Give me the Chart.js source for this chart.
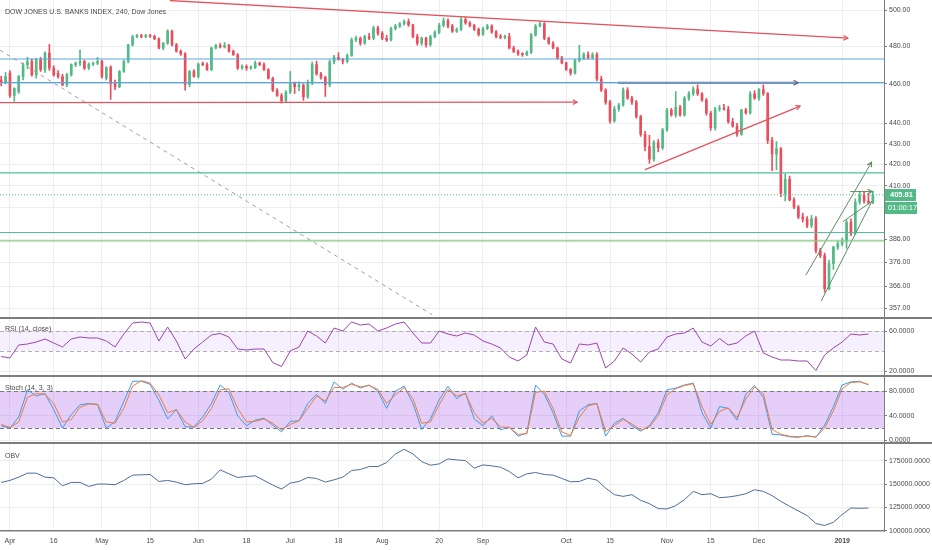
<!DOCTYPE html>
<html>
<head>
<meta charset="utf-8">
<script src="https://cdn.jsdelivr.net/npm/chart.js@4.4.0/dist/chart.umd.min.js"></script>
<style>
  body { margin: 0; background: #fff; }
  #wrap { position: relative; width: 932px; height: 550px; overflow: hidden; font-family: "Liberation Sans", Arial, sans-serif; }
  canvas { position: absolute; left: 0; }
  .sep { position: absolute; left: 0; width: 932px; height: 2px; background: #7d7d7d; }
  .lbl { position: absolute; left: 5px; font-size: 7px; line-height: 9px; color: #4a4a4a; white-space: nowrap; }
</style>
</head>
<body>
<div id="wrap">
  <canvas id="main" width="932" height="317" style="top:0"></canvas>
  <div class="sep" style="top:317px"></div>
  <canvas id="rsi" width="932" height="56" style="top:319px"></canvas>
  <div class="sep" style="top:375px"></div>
  <canvas id="stoch" width="932" height="65" style="top:377px"></canvas>
  <div class="sep" style="top:442px"></div>
  <canvas id="obv" width="932" height="106" style="top:444px"></canvas>
  <div class="lbl" style="top:7px">DOW JONES U.S. BANKS INDEX, 240, Dow Jones</div>
  <div class="lbl" style="top:324px">RSI (14, close)</div>
  <div class="lbl" style="top:383px">Stoch (14, 3, 3)</div>
  <div class="lbl" style="top:451px">OBV</div>
</div>
<script>
// trading-day index of each date label
const dateTicks = [2, 12, 23, 34, 45, 56, 66, 77, 87, 100, 110, 129, 139, 152, 162, 173, 192]
const dateLabels = ['Apr', '16', 'May', '15', 'Jun', '18', 'Jul', '18', 'Aug', '20', 'Sep', 'Oct', '15', 'Nov', '15', 'Dec', '2019']

const priceTicks = [357, 366, 376, 386, 400, 410, 420, 430, 440, 460, 480, 500]
const rsiTicks = [20, 60]
const stochTicks = [0, 40, 80]
const obvTicks = [100000, 125000, 150000, 175000]

// one candle per trading day: [open, high, low, close]
const candles = [
  [462, 464, 459, 461], [461, 466, 460, 463.8], [465.6, 467, 453, 454], [454, 458, 451, 457.6], [456, 464.5, 455, 463.8],
  [463.8, 471, 462, 470], [470, 474, 468, 471.8], [471.8, 473, 464, 464.7], [464.7, 473.5, 463, 472.7], [472.7, 474, 466.5, 467.4],
  [467.4, 477, 466, 476.3], [476.3, 481, 467, 468.3], [468.3, 469.5, 464, 464.7], [465.5, 467, 463, 463.8], [463.8, 465, 459, 459.4],
  [459.4, 465.5, 458.5, 464.7], [464.7, 470.5, 464, 470.1], [470.1, 471.5, 469, 470.9], [470.9, 478, 469.5, 471.8], [471.8, 472.5, 467.5, 468.3],
  [468.3, 471, 467.5, 470.4], [470.4, 471.5, 469.5, 470.9], [470.9, 474, 470, 471.8], [471.8, 472.5, 463, 463.8], [462.9, 469, 462, 468.6],
  [468.6, 469.5, 452, 460.2], [460.2, 462, 457, 458.5], [458.5, 467, 458, 466.5], [466.5, 472.5, 466, 471.8], [471.8, 481, 471, 480.8],
  [480.8, 486, 480, 485.2], [485.2, 486.5, 484.5, 485.7], [485.7, 486.5, 484.5, 485.2], [485.2, 486.5, 484.5, 485.7], [485.7, 486.5, 484.8, 485.4],
  [485.4, 486, 483.5, 484], [484, 484.5, 478.5, 479], [479, 482, 478, 481.6], [481.6, 489, 481, 488.2], [488.2, 488.8, 480, 480.8],
  [480.8, 481.5, 476.8, 477.2], [477.2, 478, 475, 475.8], [475.8, 476.5, 456.7, 459.7], [459.7, 467, 458.5, 466.5], [466.5, 467.5, 463.5, 463.8],
  [463.8, 471, 463, 470.4], [470.4, 471.5, 469.5, 470.1], [470.1, 471, 467, 467.4], [467.4, 479.5, 467, 479], [479, 481, 478.5, 480.4],
  [480.4, 481.5, 479, 479.5], [479.5, 482, 479, 480.4], [480.4, 481, 476.8, 477.2], [477.2, 478, 475, 475.4], [475.4, 476, 467.5, 468.3],
  [468.3, 470, 467.5, 469.2], [469.2, 470, 467, 468.3], [468.3, 469.5, 467.5, 468.6], [468.6, 472, 468, 470.9], [470.9, 471.5, 469.5, 470.1],
  [470.1, 471, 467, 467.4], [467.4, 468, 462.5, 462.9], [462.9, 463.5, 456, 456.7], [456.7, 457.5, 453.5, 454], [454, 455, 450.1, 451.3],
  [451.3, 456.5, 450.5, 455.8], [455.8, 466.5, 455, 460.2], [460.2, 461, 455, 458.5], [458.5, 461, 456.5, 459.4], [459.4, 460, 451.5, 453.3],
  [453.3, 462, 452.5, 460.4], [460.4, 471.5, 459.5, 470.1], [470.1, 472, 464.5, 465.2], [465.2, 466, 462.5, 463.4], [463.4, 464, 453.5, 459.5],
  [459.5, 472.5, 458.5, 471.6], [471.6, 475, 470.5, 474], [474, 476.5, 472.5, 472.8], [472.8, 473.5, 470.5, 471.9], [471.9, 475.8, 471, 475],
  [475, 484.5, 474.5, 483.4], [483.4, 485.5, 482.5, 484.3], [484.3, 485, 480.5, 481.6], [481.6, 486, 481, 485.2], [485.2, 487, 483.5, 484.3],
  [484.3, 491, 483.5, 490], [490, 491, 486, 487], [487, 488, 483.5, 484.3], [484.3, 486, 482.5, 483.4], [483.4, 490.5, 482.8, 489.6],
  [489.6, 492, 488.8, 491], [491, 493, 490.2, 492.3], [492.3, 494.5, 491.5, 493.5], [493.5, 495, 490.8, 491.7], [491.7, 492, 484.5, 485.2],
  [485.2, 486.5, 480.5, 481.6], [481.6, 485, 480.5, 484.3], [484.3, 485, 479.5, 480.8], [480.8, 486, 480, 485.2], [485.2, 488.5, 484.5, 487.5],
  [487.5, 492.5, 486.8, 491.4], [491.4, 495.5, 490.5, 494], [494, 495, 490, 491], [491, 492, 487.5, 488.2], [488.2, 490, 487.5, 489.3],
  [489.3, 495.8, 488.5, 494.6], [494.6, 496, 492, 492.8], [492.8, 493.5, 490.5, 491.4], [491.4, 492, 488.5, 489.3], [489.3, 490, 485.5, 486.4],
  [486.4, 490.5, 485.8, 489.6], [489.6, 492, 489, 491], [491, 491.8, 487, 487.8], [487.8, 488.5, 484.5, 485.2], [485.2, 486.5, 484, 484.8],
  [484.8, 486, 484, 485.2], [485.2, 487, 478.5, 479], [479, 480, 476.5, 477.2], [477.2, 478, 475, 475.8], [475.8, 476.5, 474.5, 475.4],
  [475.4, 477.5, 474.8, 476.7], [476.7, 487, 476, 486.1], [486.1, 492, 485.5, 491], [491, 493.5, 490.5, 492.3], [492.3, 493, 483.5, 484.3],
  [484.3, 485, 481, 481.6], [481.6, 482.5, 478.5, 479], [479, 479.5, 473, 473.7], [473.7, 474.5, 470.5, 471], [471, 471.5, 467, 467.5],
  [467.5, 468, 464.5, 465.7], [465.7, 473, 465, 472.3], [472.3, 480.5, 471.5, 473.3], [473.3, 476.5, 472.8, 475.4], [475.4, 477, 473, 473.7],
  [473.7, 476.5, 473, 475.4], [475.4, 476.5, 461.5, 462.5], [462.5, 464, 456, 456.8], [456.8, 457.5, 449.5, 450.5], [450.5, 451.5, 440, 441.2],
  [441.2, 448.5, 440.5, 447.1], [447.1, 450, 446, 449.1], [449.1, 458, 448.5, 456.8], [456.8, 458, 452, 452.6], [452.6, 453.5, 449.5, 450.6],
  [450.6, 451.5, 442.5, 443.3], [443.3, 444, 433.5, 434.5], [434.5, 436, 426.5, 428.5], [428.5, 434, 420.5, 422.5], [422.5, 431.5, 421.5, 430.5],
  [430.5, 432, 426, 428], [428, 437.5, 427, 436.7], [436.7, 447.5, 436, 446.6], [446.6, 447.5, 443.5, 444.1], [444.1, 456, 443, 448],
  [448, 449, 443.5, 444.1], [444.1, 453.5, 443.5, 452.5], [452.5, 456, 451.5, 454.9], [454.9, 458.5, 454, 457.3], [457.3, 459.5, 454, 454.9],
  [454.9, 455.5, 451, 451.7], [451.7, 452.5, 444, 445], [445, 446, 436.5, 437.8], [437.8, 448, 436.5, 447.1], [447.1, 449, 446, 447.6],
  [447.6, 449.5, 446.5, 447], [447, 448.5, 440, 440.7], [440.7, 442.5, 438, 438.6], [438.6, 440, 433.5, 434.5], [434.5, 447, 434, 446.6],
  [446.6, 447.5, 444.5, 445.2], [445.2, 456, 444.5, 454.9], [454.9, 456.5, 452, 452.6], [452.6, 457.5, 451.5, 457], [457, 459.5, 454, 455],
  [455, 455.5, 430, 431.5], [431.5, 433, 417, 425], [425, 431, 417.5, 427.5], [427.5, 428, 405, 406.5], [406.5, 415.5, 403, 413],
  [413, 414.5, 403, 403.5], [403.5, 404.5, 399.5, 400.2], [400.2, 401, 395, 395.8], [395.8, 397.5, 393.5, 394.9], [394.9, 396, 391, 392],
  [392, 396.5, 391, 395], [395, 396, 380, 381], [381, 382, 378, 378.9], [378.9, 380, 363.5, 365], [365, 377, 364.5, 375.5],
  [375.5, 383, 373, 382.5], [382.5, 385, 381.5, 384], [384, 386.5, 383, 385], [385, 394.5, 382, 393.5], [393.5, 395, 387.5, 388.5],
  [388.5, 404, 388, 402.5], [402.5, 407.5, 401.5, 405.5], [405.5, 407, 402, 403], [403, 406, 401.5, 402.3], [402.3, 407.5, 401.8, 405.81]
]

// indicator readings, one every second trading day
const indicatorStep = 2
const rsiValues = [
  34.5, 33, 46, 47, 49, 52, 48, 44, 52, 54,
  53, 53, 50, 44, 57, 68, 69, 68, 50, 64,
  50, 32, 42, 49, 56, 57.5, 54, 42, 41, 42,
  42, 28.5, 24.5, 40, 44, 60, 55, 48, 63, 60,
  69, 66, 67, 60, 63, 67, 69, 58, 48, 48,
  60, 57, 55, 58, 56, 50, 47, 43, 34, 30,
  36, 64, 49, 47, 32, 28, 47, 46, 48, 23,
  30, 43, 37, 29, 39, 42, 54, 57, 58, 63,
  49, 45, 52.5, 46, 48, 55, 60, 38, 34, 31,
  31, 30, 30, 20.5, 36, 43, 49, 57, 56, 57
]
const stochK = [
  24, 20, 38, 82, 72, 76, 50, 20, 42, 58,
  60, 58, 20, 31, 63, 96, 96, 91, 65, 35,
  50, 22, 22, 38, 60, 90, 78, 40, 24, 33,
  36, 25, 14, 31, 32, 60, 75, 60, 95, 83,
  93, 85, 90, 80, 52, 80, 88, 60, 18, 35,
  66, 88, 68, 77, 35, 24, 40, 17, 22, 7,
  12, 90, 75, 45, 7, 7, 48, 58, 60, 7,
  28, 36, 24, 15, 24, 45, 82, 85, 90, 93,
  45, 20, 55, 52, 33, 75, 89, 70, 10, 9,
  6, 5, 8, 5, 25, 55, 90, 95, 96, 90
]
const stochD = [
  26, 21, 30, 70, 76, 75, 60, 30, 34, 54,
  59, 59, 30, 28, 52, 88, 97, 93, 74, 45,
  50, 30, 21, 32, 52, 82, 84, 52, 30, 31,
  35, 28, 17, 26, 32, 52, 72, 64, 86, 86,
  91, 87, 89, 83, 60, 74, 86, 68, 28, 30,
  58, 83, 72, 76, 45, 28, 36, 22, 21, 10,
  11, 78, 80, 52, 14, 8, 38, 56, 60, 15,
  24, 34, 27, 17, 22, 40, 74, 84, 89, 92,
  55, 26, 47, 53, 37, 67, 87, 76, 18, 10,
  7, 6, 7, 6, 20, 48, 84, 94, 95, 91
]
const obvValues = [
  151760, 153880, 157430, 161690, 161690, 157430, 156700, 148210, 151760, 151760,
  147500, 150000, 150000, 149280, 153880, 159560, 159910, 160270, 152820, 153880,
  152110, 149280, 150340, 150700, 155300, 165230, 160980, 157070, 158140, 158850,
  153880, 148920, 144670, 151050, 152820, 157070, 156010, 152110, 154590, 157430,
  164520, 165580, 168770, 168770, 173030, 182240, 187210, 182240, 174090, 170190,
  171610, 176920, 175860, 175150, 166990, 170540, 169480, 168060, 163460, 156700,
  160980, 162400, 160270, 159560, 156010, 152470, 152820, 156360, 154230, 145730,
  138640, 136870, 138640, 132610, 129060, 123740, 123390, 126940, 133320, 142190,
  138640, 139700, 135450, 136160, 137580, 139700, 143960, 142190, 137580, 131550,
  126230, 121270, 116300, 107790, 105660, 109210, 117360, 124450, 124100, 124450
]

// horizontal levels drawn on the price pane
const levels = [
  { price: 473.1, color: '#5aa5dc', width: 1.2 },
  { price: 460.6, color: '#5aa5dc', width: 1.2 },
  { price: 416.0, color: '#4fbf9f', width: 1.2 },
  { price: 388.9, color: '#4fbf9f', width: 1.2 },
  { price: 385.2, color: '#86cc7c', width: 1.2 }
]

// drawn trend lines: [day, price] -> [day, price]
const trendLines = [
  { from: [38.5, 505.4], to: [193.3, 484.4], color: '#e0545e', width: 1.3, arrow: true },
  { from: [-0.3, 450.3], to: [131.5, 450.6], color: '#e0545e', width: 1.3, arrow: true },
  { from: [140.8, 460.6], to: [181.9, 460.6], color: '#6f6078', width: 2, arrow: true },
  { from: [147, 417.5], to: [182.4, 448.6], color: '#e0545e', width: 1.3, arrow: true },
  { from: [183.7, 370.6], to: [198.7, 421.0], color: '#5f8c62', width: 1, arrow: true },
  { from: [187.2, 359.9], to: [198.8, 402.9], color: '#5f8c62', width: 1, arrow: false },
  { from: [192.2, 393.7], to: [198.8, 402.9], color: '#5f8c62', width: 1, arrow: false },
  { from: [193.8, 407.3], to: [198.8, 407.3], color: '#5f8c62', width: 1, arrow: true },
  { from: [-0.3, 477.9], to: [98.4, 354.4], color: '#a0a0a0', width: 1, arrow: false, dash: [4, 4] }
]

const X_MIN = -0.27
const X_MAX = 201.55
const AXIS_W = 48
const UP = '#53b987'
const DOWN = '#eb4d5c'
const GRID = '#eceef2'
const EDGE = '#7d7d7d'
const TEXT = '#4a4a4a'
const FONT = { family: 'Liberation Sans', size: 7 }

let xAxis = (showLabels) => {
  return {
    type: 'linear',
    min: X_MIN,
    max: X_MAX,
    offset: false,
    afterBuildTicks (s) {
      s.ticks = dateTicks.map(v => ({ value: v }))
    },
    afterFit (s) {
      s.height = showLabels ? 19 : 0
      s.paddingLeft = 0
      s.paddingRight = 0
    },
    grid: { color: GRID, drawTicks: false, offset: false },
    border: { display: showLabels, color: EDGE, width: 1.5 },
    ticks: {
      display: showLabels,
      autoSkip: false,
      maxRotation: 0,
      padding: 6,
      color: TEXT,
      font (c) {
        return c.tick && c.tick.label === '2019' ? { family: 'Liberation Sans', size: 7, weight: 'bold' } : FONT
      },
      callback (v, i) {
        return dateLabels[i]
      }
    }
  }
}

let yAxis = (extra, ticks, digits) => {
  return Object.assign({
    position: 'right',
    afterBuildTicks (s) {
      s.ticks = ticks.map(v => ({ value: v }))
    },
    afterFit (s) {
      s.width = AXIS_W
      s.paddingTop = 0
      s.paddingBottom = 0
    },
    grid: { color: GRID, tickLength: 3, tickColor: EDGE },
    border: { color: EDGE },
    ticks: {
      autoSkip: false,
      padding: 2,
      color: TEXT,
      font: FONT,
      callback (v) {
        return Number(v).toFixed(digits)
      }
    }
  }, extra)
}

let lineSet = (points, color, width, extra) => {
  return Object.assign({
    type: 'line',
    data: points,
    borderColor: color,
    borderWidth: width,
    pointRadius: 0,
    tension: 0,
    fill: false,
    order: 0
  }, extra || {})
}

let series = (values) => values.map((v, i) => ({ x: i * indicatorStep, y: v }))

const bandPlugin = {
  id: 'band',
  beforeDatasetsDraw (chart, args, opts) {
    let { ctx, chartArea: a, scales: { y } } = chart
    let top = y.getPixelForValue(opts.hi)
    let bot = y.getPixelForValue(opts.lo)
    ctx.save()
    ctx.fillStyle = opts.fill
    ctx.fillRect(a.left, top, a.right - a.left, bot - top)
    ctx.strokeStyle = opts.line
    ctx.lineWidth = 1
    ctx.setLineDash([4, 3])
    ;[top, bot].forEach(py => {
      ctx.beginPath()
      ctx.moveTo(a.left, Math.round(py) + 0.5)
      ctx.lineTo(a.right, Math.round(py) + 0.5)
      ctx.stroke()
    })
    ctx.restore()
  }
}

const arrowPlugin = {
  id: 'arrows',
  afterDatasetsDraw (chart) {
    let ctx = chart.ctx
    chart.data.datasets.forEach((ds, i) => {
      if (!ds.arrow) {
        return
      }
      let pts = chart.getDatasetMeta(i).data
      let a = pts[0]
      let b = pts[pts.length - 1]
      let ang = Math.atan2(b.y - a.y, b.x - a.x)
      ctx.save()
      ctx.strokeStyle = ds.borderColor
      ctx.lineWidth = 1.2
      ctx.beginPath()
      ctx.moveTo(b.x - 5 * Math.cos(ang - 0.5), b.y - 5 * Math.sin(ang - 0.5))
      ctx.lineTo(b.x, b.y)
      ctx.lineTo(b.x - 5 * Math.cos(ang + 0.5), b.y - 5 * Math.sin(ang + 0.5))
      ctx.stroke()
      ctx.restore()
    })
  }
}

const lastPricePlugin = {
  id: 'lastPrice',
  afterDraw (chart) {
    let ctx = chart.ctx
    let last = candles[candles.length - 1][3]
    let y = Math.round(chart.scales.y.getPixelForValue(last))
    let left = chart.chartArea.right + 1
    ctx.save()
    ctx.fillStyle = UP
    ctx.fillRect(left, y - 6, 31, 12)
    ctx.fillRect(left, y + 7, 32, 12)
    ctx.fillStyle = '#ffffff'
    ctx.font = 'bold 7.5px "Liberation Sans"'
    ctx.textBaseline = 'middle'
    ctx.fillText(last.toFixed(2), left + 5, y)
    ctx.font = '7.5px "Liberation Sans"'
    ctx.fillText('01:00:17', left + 3, y + 13)
    ctx.restore()
  }
}

const candleColors = candles.map(c => c[3] >= c[0] ? UP : DOWN)

const mainSets = [
  {
    type: 'bar',
    data: candles.map((c, i) => ({ x: i, y: [c[2], c[1]] })),
    backgroundColor: candleColors,
    barThickness: 1,
    grouped: false,
    order: 2
  },
  {
    type: 'bar',
    data: candles.map((c, i) => ({ x: i, y: [c[0], c[3]] })),
    backgroundColor: candleColors,
    barThickness: 2,
    minBarLength: 1,
    grouped: false,
    order: 1
  }
]

levels.forEach(l => {
  mainSets.push(lineSet([{ x: X_MIN, y: l.price }, { x: X_MAX, y: l.price }], l.color, l.width))
})

mainSets.push(lineSet(
  [{ x: X_MIN, y: candles[candles.length - 1][3] }, { x: X_MAX, y: candles[candles.length - 1][3] }],
  UP, 1, { borderDash: [1, 2] }
))

trendLines.forEach(t => {
  mainSets.push(lineSet(
    [{ x: t.from[0], y: t.from[1] }, { x: t.to[0], y: t.to[1] }],
    t.color, t.width, { arrow: t.arrow, borderDash: t.dash || [] }
  ))
})

let base = {
  responsive: false,
  animation: false,
  events: [],
  layout: { padding: 0 },
  plugins: { legend: { display: false }, tooltip: { enabled: false } }
}

new Chart(document.getElementById('main'), {
  type: 'bar',
  data: { datasets: mainSets },
  options: Object.assign({}, base, {
    scales: {
      x: xAxis(false),
      y: yAxis({ type: 'logarithmic', min: 353.5, max: 505.7 }, priceTicks, 2)
    }
  }),
  plugins: [arrowPlugin, lastPricePlugin]
})

new Chart(document.getElementById('rsi'), {
  type: 'line',
  data: { datasets: [lineSet(series(rsiValues), '#9b45b0', 1)] },
  options: Object.assign({}, base, {
    plugins: Object.assign({}, base.plugins, { band: { hi: 60, lo: 40, fill: 'rgba(160, 80, 230, 0.09)', line: '#b0b0b0' } }),
    scales: {
      x: xAxis(false),
      y: yAxis({ type: 'linear', min: 16, max: 72 }, rsiTicks, 4)
    }
  }),
  plugins: [bandPlugin]
})

new Chart(document.getElementById('stoch'), {
  type: 'line',
  data: {
    datasets: [
      lineSet(series(stochD), '#f07a3c', 1),
      lineSet(series(stochK), '#3c9cf0', 1)
    ]
  },
  options: Object.assign({}, base, {
    plugins: Object.assign({}, base.plugins, { band: { hi: 80, lo: 20, fill: 'rgba(160, 80, 230, 0.28)', line: '#7a7a7a' } }),
    scales: {
      x: xAxis(false),
      y: yAxis({ type: 'linear', min: -2.45, max: 102.9 }, stochTicks, 4)
    }
  }),
  plugins: [bandPlugin]
})

new Chart(document.getElementById('obv'), {
  type: 'line',
  data: { datasets: [lineSet(series(obvValues), '#4d6d9e', 1)] },
  options: Object.assign({}, base, {
    scales: {
      x: xAxis(true),
      y: yAxis({ type: 'linear', min: 99800, max: 192880 }, obvTicks, 4)
    }
  })
})
</script>
</body>
</html>
